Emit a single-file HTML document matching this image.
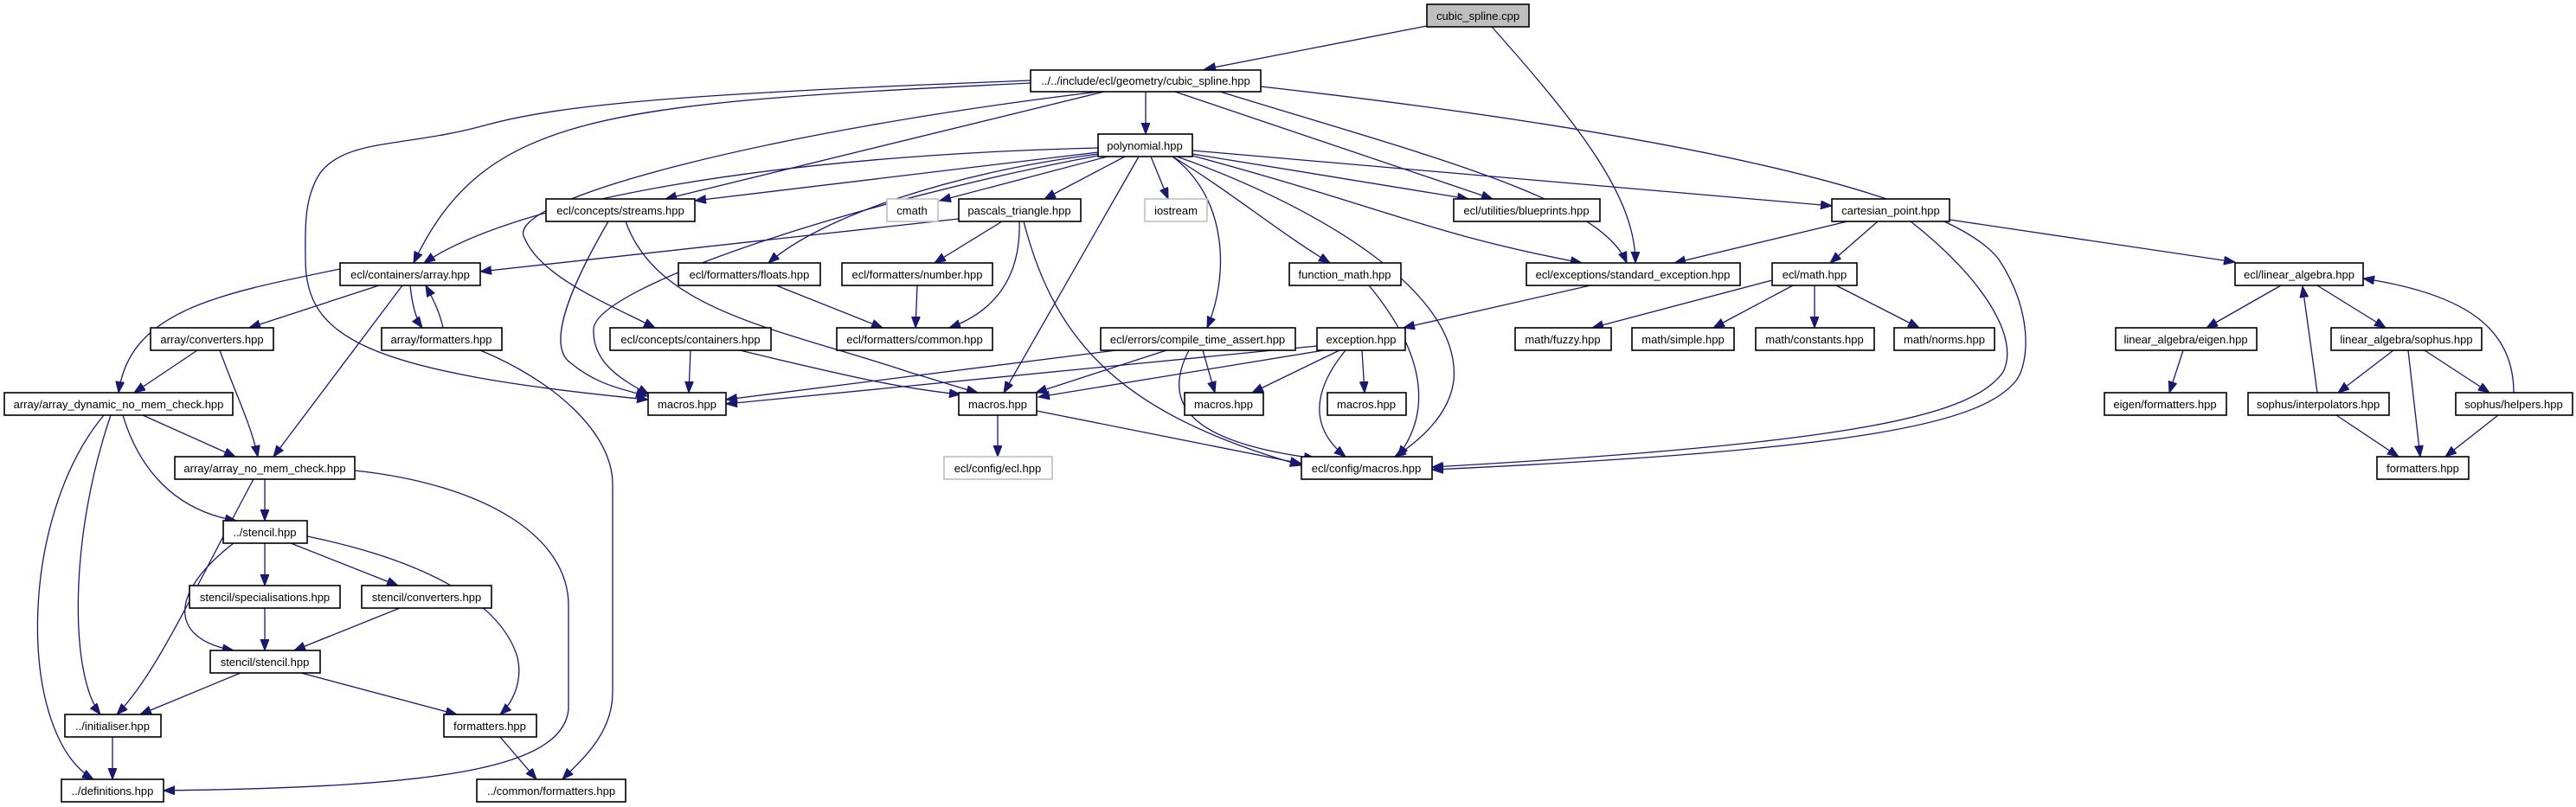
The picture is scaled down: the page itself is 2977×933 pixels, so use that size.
<!DOCTYPE html>
<html><head><meta charset="utf-8"><style>
html,body{margin:0;padding:0;background:#fff;}
svg{display:block;}
text{font-family:"Liberation Sans",Arial,sans-serif;font-size:13px;fill:#000;}
.b{fill:#fff;stroke:#000;stroke-width:1.6;}
.g{fill:#fff;stroke:#bfbfbf;stroke-width:1.6;}
.e{fill:none;stroke:#191970;stroke-width:1.3;marker-end:url(#a);}
</style></head><body>
<svg width="2977" height="933" viewBox="0 0 2977 933" xmlns="http://www.w3.org/2000/svg">
<defs><marker id="a" markerUnits="userSpaceOnUse" markerWidth="16" markerHeight="12" refX="13" refY="5" orient="auto"><path d="M0,0 L13,5 L0,10 z" fill="#191970" stroke="#191970"/></marker></defs>
<g>
<path class="e" d="M1649,30 L1392,80"/>
<path class="e" d="M1724,31 C1830,150 1890,230 1890,304"/>
<path class="e" d="M1324,106 L1324,155"/>
<path class="e" d="M1191,96 C700,120 560,130 478,304"/>
<path class="e" d="M1191,93 C800,108 650,120 560,145 C470,170 400,160 370,200 C350,230 353,270 353,300 C353,390 420,430 749,462"/>
<path class="e" d="M1270,106 C900,150 580,230 606,275 C625,320 700,350 757,379"/>
<path class="e" d="M1276,106 L769,230"/>
<path class="e" d="M1358,106 L1725,230"/>
<path class="e" d="M1410,106 C1650,180 1850,230 1880,304"/>
<path class="e" d="M1457,100 C1900,150 2250,220 2310,300 C2350,360 2345,420 2330,440 C2290,490 2150,520 1655,543"/>
<path class="e" d="M2208,256 C2290,320 2335,390 2315,430 C2280,480 2150,512 1655,540"/>
<path class="e" d="M1269,171 C900,180 600,230 490,304"/>
<path class="e" d="M1269,176 L803,232"/>
<path class="e" d="M1280,181 L1086,232"/>
<path class="e" d="M1300,181 L1207,230"/>
<path class="e" d="M1330,181 L1350,230"/>
<path class="e" d="M1316,181 L1160,454"/>
<path class="e" d="M1269,178 C1100,200 950,250 888,304"/>
<path class="e" d="M1269,180 C1000,230 690,330 686,380 C684,420 720,440 750,456"/>
<path class="e" d="M1355,181 C1420,220 1480,270 1537,304"/>
<path class="e" d="M1355,181 C1420,230 1420,320 1395,379"/>
<path class="e" d="M1378,178 L1697,230"/>
<path class="e" d="M1378,180 C1600,240 1650,270 1828,304"/>
<path class="e" d="M1378,174 L2117,238"/>
<path class="e" d="M1360,181 C1500,230 1690,330 1680,440 C1675,480 1640,510 1612,528"/>
<path class="e" d="M703,256 C660,330 630,400 660,420 C690,445 720,450 748,458"/>
<path class="e" d="M723,256 C760,360 900,380 1050,430 C1100,445 1115,450 1130,454"/>
<path class="e" d="M1108,253 L555,314"/>
<path class="e" d="M1158,256 L1080,304"/>
<path class="e" d="M1178,256 C1180,320 1150,360 1097,379"/>
<path class="e" d="M1183,256 C1220,400 1300,480 1504,538"/>
<path class="e" d="M438,330 L288,379"/>
<path class="e" d="M474,330 C476,350 480,368 488,379"/>
<path class="e" d="M512,379 C508,360 500,345 492,330"/>
<path class="e" d="M393,311 C250,340 150,360 137,454"/>
<path class="e" d="M465,330 L316,528"/>
<path class="e" d="M555,405 C640,440 708,500 708,560 L708,800 C708,850 670,880 650,901"/>
<path class="e" d="M228,405 L155,454"/>
<path class="e" d="M254,405 C270,450 290,490 298,528"/>
<path class="e" d="M165,480 L272,528"/>
<path class="e" d="M142,480 C160,540 200,590 273,602"/>
<path class="e" d="M128,480 C80,620 80,780 116,826"/>
<path class="e" d="M120,480 C20,600 20,850 108,901"/>
<path class="e" d="M306,554 L306,602"/>
<path class="e" d="M293,554 C220,690 180,780 135,826"/>
<path class="e" d="M410,544 C560,560 657,620 657,700 L657,820 C650,890 500,910 189,914"/>
<path class="e" d="M306,628 L306,677"/>
<path class="e" d="M336,628 L460,677"/>
<path class="e" d="M270,628 C190,690 200,740 270,752"/>
<path class="e" d="M355,620 C500,650 580,700 598,760 C605,790 590,815 578,826"/>
<path class="e" d="M306,703 L306,752"/>
<path class="e" d="M462,703 L340,752"/>
<path class="e" d="M278,778 L162,826"/>
<path class="e" d="M348,778 L528,826"/>
<path class="e" d="M130,852 L130,901"/>
<path class="e" d="M578,852 L620,901"/>
<path class="e" d="M897,330 L1020,379"/>
<path class="e" d="M1060,330 L1058,379"/>
<path class="e" d="M798,405 L796,454"/>
<path class="e" d="M855,405 C1000,440 1050,450 1110,456"/>
<path class="e" d="M1290,405 L839,462"/>
<path class="e" d="M1348,405 L1197,454"/>
<path class="e" d="M1390,405 L1404,454"/>
<path class="e" d="M1374,405 C1340,470 1380,512 1520,530"/>
<path class="e" d="M1522,400 L839,467"/>
<path class="e" d="M1530,405 L1200,459"/>
<path class="e" d="M1548,405 L1447,454"/>
<path class="e" d="M1574,405 L1577,454"/>
<path class="e" d="M1555,405 C1510,460 1520,500 1555,528"/>
<path class="e" d="M1582,330 C1640,400 1660,470 1615,528"/>
<path class="e" d="M1838,330 L1622,379"/>
<path class="e" d="M1153,480 L1153,528"/>
<path class="e" d="M1198,475 L1504,536"/>
<path class="e" d="M2135,256 L1935,304"/>
<path class="e" d="M2170,256 L2115,304"/>
<path class="e" d="M2253,254 L2583,303"/>
<path class="e" d="M2048,324 L1840,379"/>
<path class="e" d="M2072,330 L1980,379"/>
<path class="e" d="M2097,330 L2097,379"/>
<path class="e" d="M2122,330 L2218,379"/>
<path class="e" d="M2636,330 L2550,379"/>
<path class="e" d="M2678,330 L2757,379"/>
<path class="e" d="M2523,405 L2507,454"/>
<path class="e" d="M2766,405 L2702,454"/>
<path class="e" d="M2783,405 L2797,528"/>
<path class="e" d="M2802,405 L2877,454"/>
<path class="e" d="M2678,454 L2661,331"/>
<path class="e" d="M2905,454 C2905,380 2850,340 2731,322"/>
<path class="e" d="M2700,480 L2772,528"/>
<path class="e" d="M2887,480 L2826,528"/>
</g>
<g>
<rect x="1649" y="5" width="118" height="26" fill="#bfbfbf" stroke="#000" stroke-width="1.6"/><text x="1708" y="23" text-anchor="middle">cubic_spline.cpp</text>
<rect class="b" x="1191" y="81" width="266" height="25"/><text x="1324" y="98" text-anchor="middle">../../include/ecl/geometry/cubic_spline.hpp</text>
<rect class="b" x="1269" y="155" width="109" height="26"/><text x="1323" y="173" text-anchor="middle">polynomial.hpp</text>
<rect class="b" x="631" y="230" width="172" height="26"/><text x="717" y="248" text-anchor="middle">ecl/concepts/streams.hpp</text>
<rect class="g" x="1025" y="230" width="59" height="26"/><text x="1054" y="248" text-anchor="middle">cmath</text>
<rect class="b" x="1108" y="230" width="141" height="26"/><text x="1178" y="248" text-anchor="middle">pascals_triangle.hpp</text>
<rect class="g" x="1323" y="230" width="72" height="26"/><text x="1359" y="248" text-anchor="middle">iostream</text>
<rect class="b" x="1680" y="230" width="169" height="26"/><text x="1764" y="248" text-anchor="middle">ecl/utilities/blueprints.hpp</text>
<rect class="b" x="2117" y="230" width="136" height="26"/><text x="2185" y="248" text-anchor="middle">cartesian_point.hpp</text>
<rect class="b" x="393" y="304" width="162" height="26"/><text x="474" y="322" text-anchor="middle">ecl/containers/array.hpp</text>
<rect class="b" x="784" y="304" width="164" height="26"/><text x="866" y="322" text-anchor="middle">ecl/formatters/floats.hpp</text>
<rect class="b" x="973" y="304" width="174" height="26"/><text x="1060" y="322" text-anchor="middle">ecl/formatters/number.hpp</text>
<rect class="b" x="1490" y="304" width="129" height="26"/><text x="1554" y="322" text-anchor="middle">function_math.hpp</text>
<rect class="b" x="1764" y="304" width="247" height="26"/><text x="1887" y="322" text-anchor="middle">ecl/exceptions/standard_exception.hpp</text>
<rect class="b" x="2048" y="304" width="98" height="26"/><text x="2097" y="322" text-anchor="middle">ecl/math.hpp</text>
<rect class="b" x="2583" y="304" width="148" height="26"/><text x="2657" y="322" text-anchor="middle">ecl/linear_algebra.hpp</text>
<rect class="b" x="174" y="379" width="142" height="26"/><text x="245" y="397" text-anchor="middle">array/converters.hpp</text>
<rect class="b" x="441" y="379" width="139" height="26"/><text x="510" y="397" text-anchor="middle">array/formatters.hpp</text>
<rect class="b" x="705" y="379" width="186" height="26"/><text x="798" y="397" text-anchor="middle">ecl/concepts/containers.hpp</text>
<rect class="b" x="967" y="379" width="180" height="26"/><text x="1057" y="397" text-anchor="middle">ecl/formatters/common.hpp</text>
<rect class="b" x="1272" y="379" width="225" height="26"/><text x="1384" y="397" text-anchor="middle">ecl/errors/compile_time_assert.hpp</text>
<rect class="b" x="1522" y="379" width="102" height="26"/><text x="1573" y="397" text-anchor="middle">exception.hpp</text>
<rect class="b" x="1751" y="379" width="111" height="26"/><text x="1806" y="397" text-anchor="middle">math/fuzzy.hpp</text>
<rect class="b" x="1886" y="379" width="118" height="26"/><text x="1945" y="397" text-anchor="middle">math/simple.hpp</text>
<rect class="b" x="2029" y="379" width="137" height="26"/><text x="2097" y="397" text-anchor="middle">math/constants.hpp</text>
<rect class="b" x="2189" y="379" width="116" height="26"/><text x="2247" y="397" text-anchor="middle">math/norms.hpp</text>
<rect class="b" x="2445" y="379" width="163" height="26"/><text x="2526" y="397" text-anchor="middle">linear_algebra/eigen.hpp</text>
<rect class="b" x="2694" y="379" width="174" height="26"/><text x="2781" y="397" text-anchor="middle">linear_algebra/sophus.hpp</text>
<rect class="b" x="5" y="454" width="264" height="26"/><text x="137" y="472" text-anchor="middle">array/array_dynamic_no_mem_check.hpp</text>
<rect class="b" x="749" y="454" width="90" height="26"/><text x="794" y="472" text-anchor="middle">macros.hpp</text>
<rect class="b" x="1108" y="454" width="90" height="26"/><text x="1153" y="472" text-anchor="middle">macros.hpp</text>
<rect class="b" x="1369" y="454" width="91" height="26"/><text x="1414" y="472" text-anchor="middle">macros.hpp</text>
<rect class="b" x="1534" y="454" width="91" height="26"/><text x="1579" y="472" text-anchor="middle">macros.hpp</text>
<rect class="b" x="2432" y="454" width="141" height="26"/><text x="2502" y="472" text-anchor="middle">eigen/formatters.hpp</text>
<rect class="b" x="2598" y="454" width="163" height="26"/><text x="2679" y="472" text-anchor="middle">sophus/interpolators.hpp</text>
<rect class="b" x="2838" y="454" width="135" height="26"/><text x="2905" y="472" text-anchor="middle">sophus/helpers.hpp</text>
<rect class="b" x="202" y="528" width="208" height="26"/><text x="306" y="546" text-anchor="middle">array/array_no_mem_check.hpp</text>
<rect class="g" x="1091" y="528" width="125" height="26"/><text x="1153" y="546" text-anchor="middle">ecl/config/ecl.hpp</text>
<rect class="b" x="1504" y="528" width="151" height="26"/><text x="1579" y="546" text-anchor="middle">ecl/config/macros.hpp</text>
<rect class="b" x="2747" y="528" width="106" height="26"/><text x="2800" y="546" text-anchor="middle">formatters.hpp</text>
<rect class="b" x="258" y="602" width="97" height="26"/><text x="306" y="620" text-anchor="middle">../stencil.hpp</text>
<rect class="b" x="219" y="677" width="174" height="26"/><text x="306" y="695" text-anchor="middle">stencil/specialisations.hpp</text>
<rect class="b" x="418" y="677" width="150" height="26"/><text x="493" y="695" text-anchor="middle">stencil/converters.hpp</text>
<rect class="b" x="243" y="752" width="127" height="26"/><text x="306" y="770" text-anchor="middle">stencil/stencil.hpp</text>
<rect class="b" x="75" y="826" width="111" height="26"/><text x="130" y="844" text-anchor="middle">../initialiser.hpp</text>
<rect class="b" x="513" y="826" width="107" height="26"/><text x="566" y="844" text-anchor="middle">formatters.hpp</text>
<rect class="b" x="71" y="901" width="118" height="26"/><text x="130" y="919" text-anchor="middle">../definitions.hpp</text>
<rect class="b" x="551" y="901" width="172" height="26"/><text x="637" y="919" text-anchor="middle">../common/formatters.hpp</text>
</g>
</svg>
</body></html>
